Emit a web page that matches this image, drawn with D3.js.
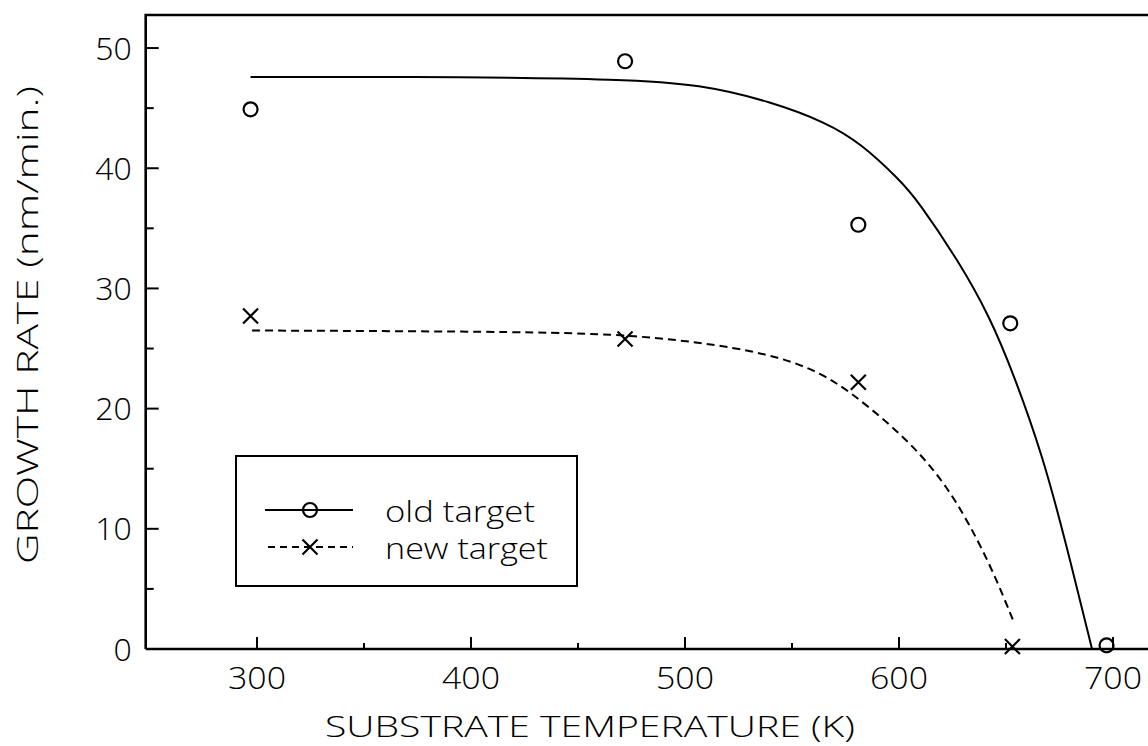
<!DOCTYPE html>
<html><head><meta charset="utf-8">
<script src="https://cdn.jsdelivr.net/npm/d3@7"></script>
<style>body{margin:0;background:#fff}svg{display:block}text{font-family:"Open Sans","DejaVu Sans",sans-serif;font-weight:300;fill:#000}</style>
</head><body>
<script>
// Data
const oldTargetPoints = [[297,44.9],[472,48.9],[581,35.3],[652,27.1],[697,0.3]];
const newTargetPoints = [[297,27.7],[472,25.8],[581,22.2],[653,0.2]];
const oldTargetCurve = [[297,47.6],[400,47.6],[470,47.4],[507,47.0],[541,45.5],[566,43.8],[582,42.1],[600.5,39.0],[608.4,37.4],[628.5,32.1],[642.5,27.6],[653.3,23.0],[667.3,16.0],[677.6,9.1],[690.2,0]];
const newTargetCurve = [[297.7,26.5],[432,26.4],[477.6,26.1],[516.4,25.3],[544.4,24.3],[563.1,23.0],[577.1,21.4],[594.4,18.9],[609.8,16.3],[622.4,13.5],[633.2,10.3],[643.9,6.5],[653.3,2.4]];
const xMajorTicks = [300,400,500,600,700];
const xMinorTicks = [350,450,550,650];
const yMajorTicks = [0,10,20,30,40,50];
const yMinorTicks = [5,15,25,35,45];
const xTitle = "SUBSTRATE TEMPERATURE (K)";
const yTitle = "GROWTH RATE (nm/min.)";
const legendLabels = ["old target","new target"];

const W=1148,H=746;
const svg=d3.select("body").append("svg").attr("width",W).attr("height",H);
const x=d3.scaleLinear().domain([248,718]).range([145.7,1151.5]);
const y=d3.scaleLinear().domain([0,52.75]).range([649,15]);
const L=x.range()[0], B=y(0), T=y.range()[1];

// frame
svg.append("path").attr("d",`M${L},${B}V${T}H${W+5}`).attr("fill","none").attr("stroke","#000").attr("stroke-width",2.6);
svg.append("line").attr("x1",L).attr("x2",W+5).attr("y1",B).attr("y2",B).attr("stroke","#000").attr("stroke-width",2.6);

// ticks
const g=svg.append("g").attr("stroke","#000").attr("stroke-width",2);
g.selectAll(".xM").data(xMajorTicks).join("line").attr("x1",d=>x(d)).attr("x2",d=>x(d)).attr("y1",B).attr("y2",B-12);
g.selectAll(".xm").data(xMinorTicks).join("line").attr("x1",d=>x(d)).attr("x2",d=>x(d)).attr("y1",B).attr("y2",B-6);
g.selectAll(".yM").data(yMajorTicks.filter(d=>d>0)).join("line").attr("x1",L).attr("x2",L+13).attr("y1",d=>y(d)).attr("y2",d=>y(d));
g.selectAll(".ym").data(yMinorTicks).join("line").attr("x1",L).attr("x2",L+8).attr("y1",d=>y(d)).attr("y2",d=>y(d));

// tick labels
svg.selectAll(".xl").data(xMajorTicks).join("text").attr("x",d=>x(d)).attr("y",B+40).attr("text-anchor","middle").attr("font-size",32).attr("textLength",58).attr("lengthAdjust","spacingAndGlyphs").text(d=>d);
svg.selectAll(".yl").data(yMajorTicks).join("text").attr("x",L-14).attr("y",d=>y(d)+11.5).attr("text-anchor","end").attr("font-size",32).text(d=>d);

// titles
svg.append("text").attr("x",590).attr("y",737).attr("text-anchor","middle").attr("font-size",29).attr("textLength",530).attr("lengthAdjust","spacingAndGlyphs").text(xTitle);
svg.append("text").attr("transform","translate(38,325) rotate(-90)").attr("text-anchor","middle").attr("font-size",29).attr("textLength",478).attr("lengthAdjust","spacingAndGlyphs").text(yTitle);

// curves
const line=d3.line().x(d=>x(d[0])).y(d=>y(d[1])).curve(d3.curveBasis);
svg.append("path").attr("d",line(oldTargetCurve)).attr("fill","none").attr("stroke","#000").attr("stroke-width",2);
svg.append("path").attr("d",line(newTargetCurve)).attr("fill","none").attr("stroke","#000").attr("stroke-width",2).attr("stroke-dasharray","8,5");

// markers
function circ(sel,cx,cy){sel.append("circle").attr("cx",cx).attr("cy",cy).attr("r",7).attr("fill","none").attr("stroke","#000").attr("stroke-width",2.2);}
function cross(sel,cx,cy){const s=7.5;sel.append("path").attr("d",`M${cx-s},${cy-s}L${cx+s},${cy+s}M${cx-s},${cy+s}L${cx+s},${cy-s}`).attr("stroke","#000").attr("stroke-width",2.2).attr("fill","none");}
oldTargetPoints.forEach(d=>circ(svg,x(d[0]),y(d[1])));
newTargetPoints.forEach(d=>cross(svg,x(d[0]),y(d[1])));

// legend
svg.append("rect").attr("x",236).attr("y",456).attr("width",341).attr("height",130).attr("fill","#fff").attr("stroke","#000").attr("stroke-width",2);
svg.append("line").attr("x1",265).attr("x2",353).attr("y1",510).attr("y2",510).attr("stroke","#000").attr("stroke-width",2);
circ(svg,310,510);
svg.append("line").attr("x1",268).attr("x2",353).attr("y1",547).attr("y2",547).attr("stroke","#000").attr("stroke-width",2).attr("stroke-dasharray","7,5");
cross(svg,310,547);
const legendWidths=[150,163];
svg.selectAll(".lg").data(legendLabels).join("text").attr("x",385).attr("y",(d,i)=>522+i*37).attr("font-size",30).attr("textLength",(d,i)=>legendWidths[i]).attr("lengthAdjust","spacingAndGlyphs").text(d=>d);
</script>
</body></html>
